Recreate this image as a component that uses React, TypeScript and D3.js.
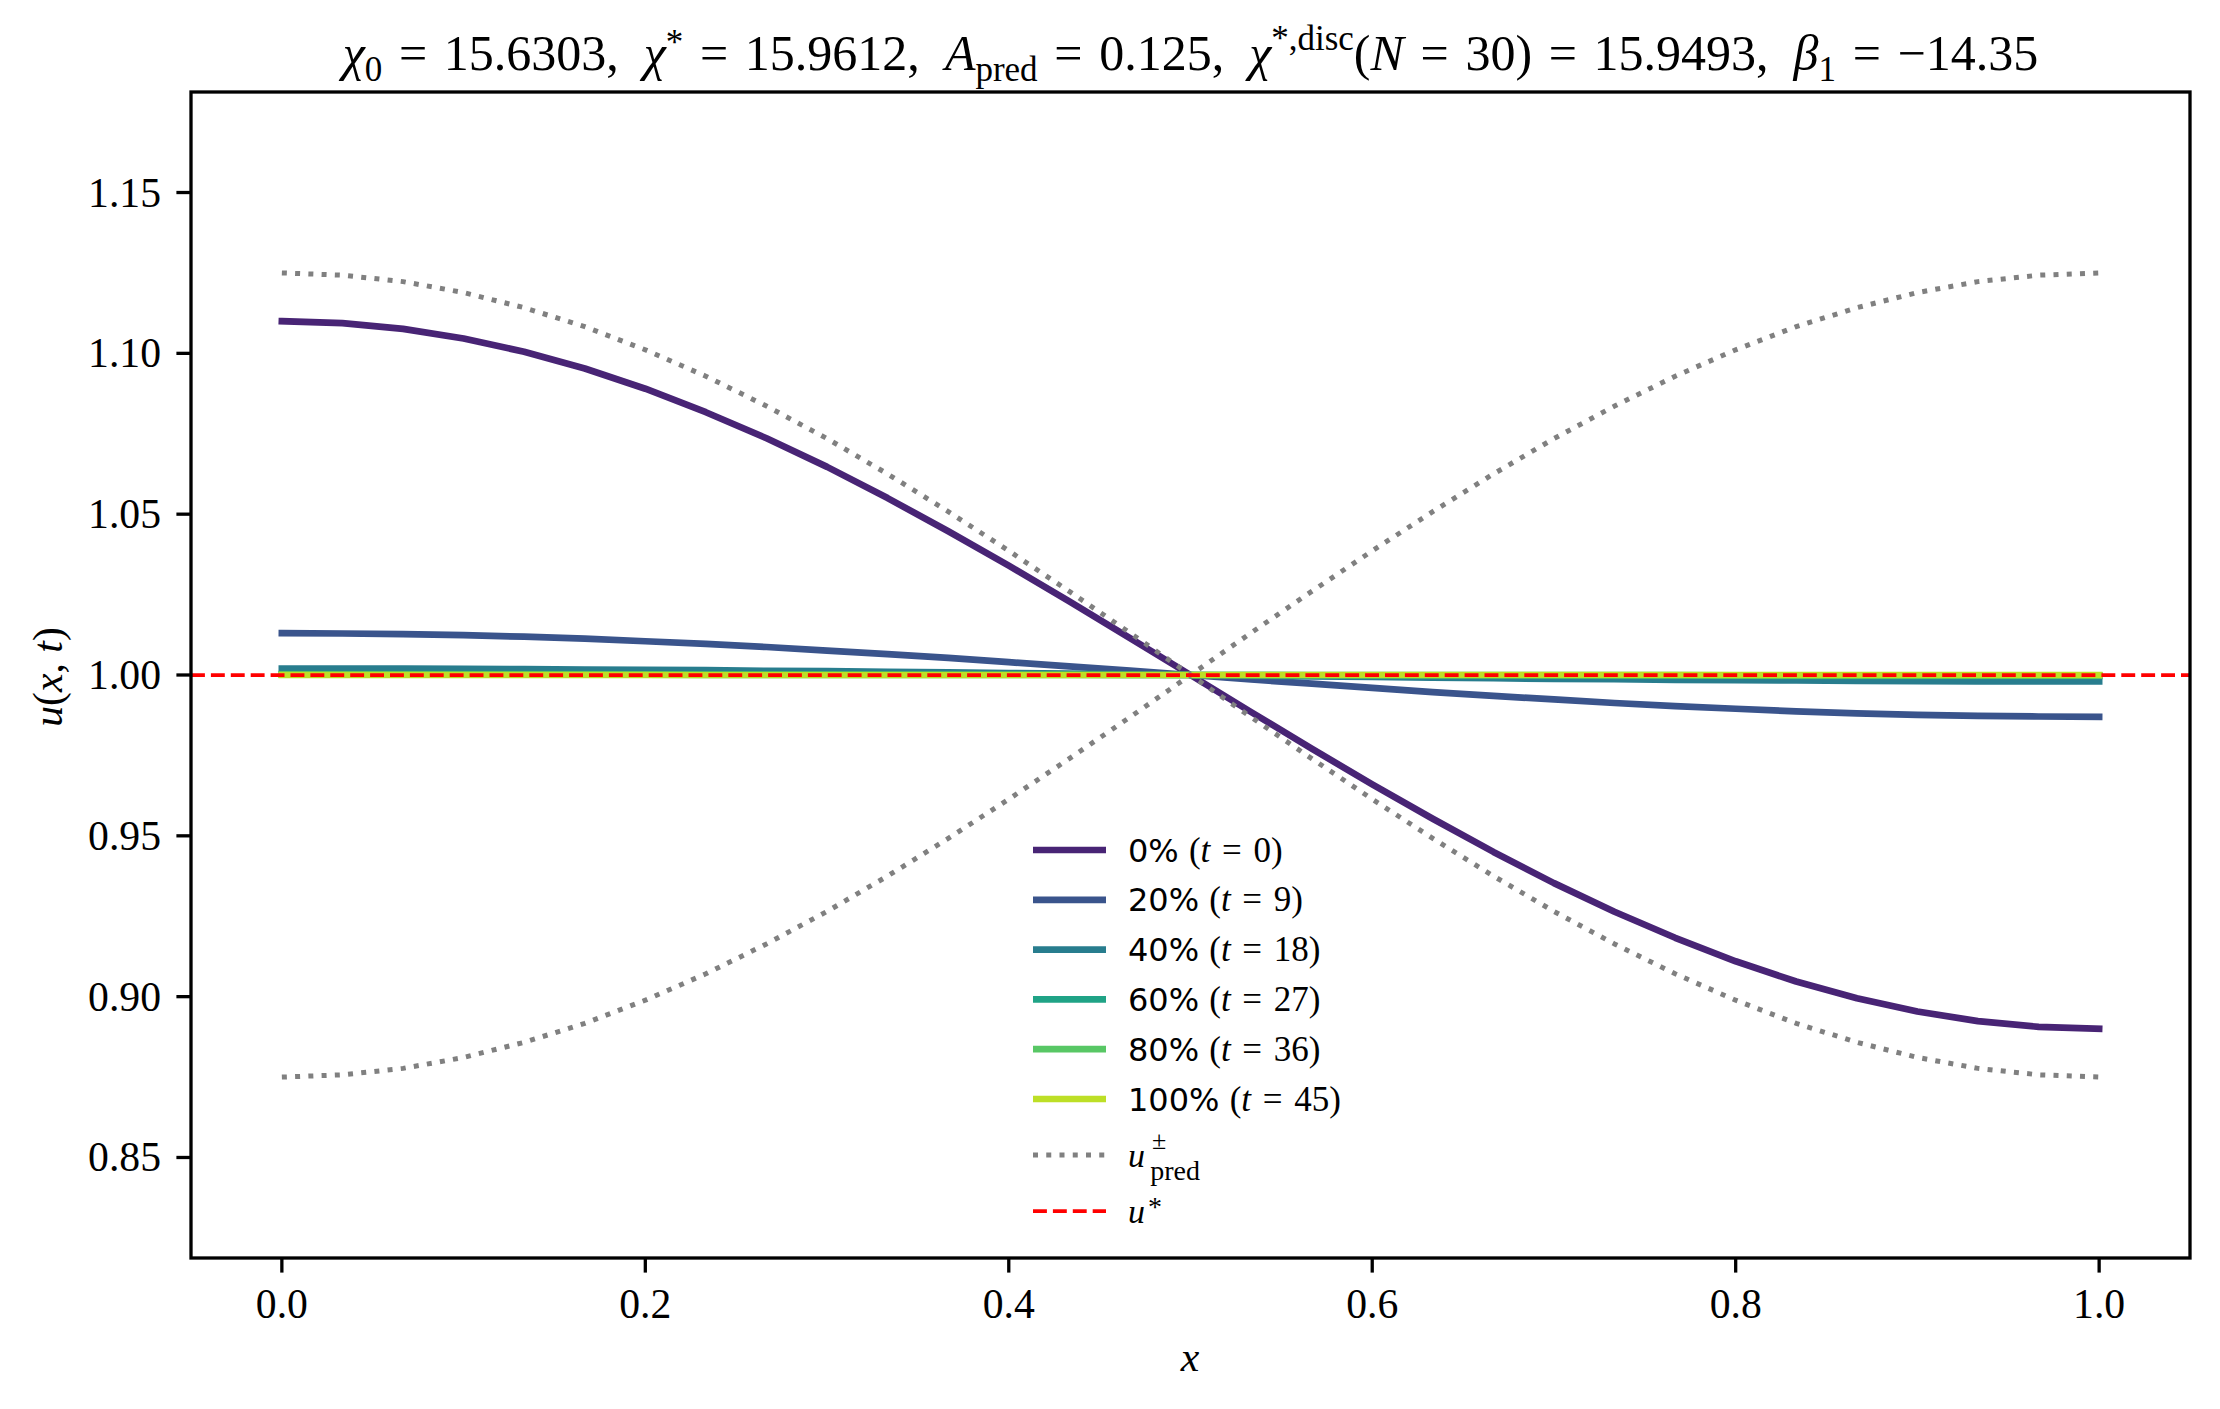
import React from "react";
import * as d3 from "d3";

const WIDTH = 2220;
const HEIGHT = 1409;
const PLOT = { left: 191, right: 2190, top: 92, bottom: 1258 };

const SERIF = "'Liberation Serif', 'Times New Roman', serif";
const SANS = "'DejaVu Sans', sans-serif";

// axis limits and ticks
const X_DOMAIN: [number, number] = [-0.05, 1.05];
const Y_DOMAIN: [number, number] = [0.81875, 1.18125];
const X_TICKS = [0.0, 0.2, 0.4, 0.6, 0.8, 1.0];
const Y_TICKS = [0.85, 0.9, 0.95, 1.0, 1.05, 1.1, 1.15];

// spatial grid (N = 30)
const X_GRID = [
  0.0, 0.0333, 0.0667, 0.1, 0.1333, 0.1667, 0.2, 0.2333, 0.2667, 0.3, 0.3333,
  0.3667, 0.4, 0.4333, 0.4667, 0.5, 0.5333, 0.5667, 0.6, 0.6333, 0.6667, 0.7,
  0.7333, 0.7667, 0.8, 0.8333, 0.8667, 0.9, 0.9333, 0.9667, 1.0,
];

// snapshots of u(x, t)
const U_T0 = [
  1.11, 1.1094, 1.1076, 1.1046, 1.1005, 1.0953, 1.089, 1.0817, 1.0736, 1.0647,
  1.055, 1.0447, 1.034, 1.0229, 1.0115, 1.0, 0.9885, 0.9771, 0.966, 0.9553,
  0.945, 0.9353, 0.9264, 0.9183, 0.911, 0.9047, 0.8995, 0.8954, 0.8924, 0.8906,
  0.89,
];
const U_T9 = [
  1.013, 1.0129, 1.0127, 1.0124, 1.0119, 1.0113, 1.0105, 1.0097, 1.0087, 1.0076,
  1.0065, 1.0053, 1.004, 1.0027, 1.0014, 1.0, 0.9986, 0.9973, 0.996, 0.9947,
  0.9935, 0.9924, 0.9913, 0.9903, 0.9895, 0.9887, 0.9881, 0.9876, 0.9873,
  0.9871, 0.987,
];
const U_T18 = [
  1.002, 1.002, 1.002, 1.0019, 1.0018, 1.0017, 1.0016, 1.0015, 1.0013, 1.0012,
  1.001, 1.0008, 1.0006, 1.0004, 1.0002, 1.0, 0.9998, 0.9996, 0.9994, 0.9992,
  0.999, 0.9988, 0.9987, 0.9985, 0.9984, 0.9983, 0.9982, 0.9981, 0.998, 0.998,
  0.998,
];
const U_T27 = [
  1.0003, 1.0003, 1.0003, 1.0003, 1.0003, 1.0003, 1.0002, 1.0002, 1.0002, 1.0002,
  1.0001, 1.0001, 1.0001, 1.0001, 1.0, 1.0, 1.0, 0.9999, 0.9999, 0.9999, 0.9999,
  0.9998, 0.9998, 0.9998, 0.9998, 0.9997, 0.9997, 0.9997, 0.9997, 0.9997,
  0.9997,
];
const U_T36 = [
  1.0001, 1.0001, 1.0001, 1.0001, 1.0001, 1.0001, 1.0001, 1.0, 1.0, 1.0, 1.0,
  1.0, 1.0, 1.0, 1.0, 1.0, 1.0, 1.0, 1.0, 1.0, 1.0, 1.0, 1.0, 1.0, 0.9999,
  0.9999, 0.9999, 0.9999, 0.9999, 0.9999, 0.9999,
];
const U_T45 = [
  1.0, 1.0, 1.0, 1.0, 1.0, 1.0, 1.0, 1.0, 1.0, 1.0, 1.0, 1.0, 1.0, 1.0, 1.0,
  1.0, 1.0, 1.0, 1.0, 1.0, 1.0, 1.0, 1.0, 1.0, 1.0, 1.0, 1.0, 1.0, 1.0, 1.0,
  1.0,
];

const SNAPSHOT_VALUES = [U_T0, U_T9, U_T18, U_T27, U_T36, U_T45];
const SNAPSHOT_PERCENT = [0, 20, 40, 60, 80, 100];
const SNAPSHOT_TIME = [0, 9, 18, 27, 36, 45];
const SNAPSHOT_CMAP = [0.1, 0.26, 0.42, 0.58, 0.74, 0.9];

// predicted envelope u_pred^{+/-}
const U_PRED_PLUS = [
  1.125, 1.1243, 1.1223, 1.1189, 1.1142, 1.1083, 1.1011, 1.0929, 1.0836,
  1.0735, 1.0625, 1.0508, 1.0386, 1.026, 1.0131, 1.0, 0.9869, 0.974, 0.9614,
  0.9492, 0.9375, 0.9265, 0.9164, 0.9071, 0.8989, 0.8917, 0.8858, 0.8811,
  0.8777, 0.8757, 0.875,
];
const U_PRED_MINUS = [
  0.875, 0.8757, 0.8777, 0.8811, 0.8858, 0.8917, 0.8989, 0.9071, 0.9164,
  0.9265, 0.9375, 0.9492, 0.9614, 0.974, 0.9869, 1.0, 1.0131, 1.026, 1.0386,
  1.0508, 1.0625, 1.0735, 1.0836, 1.0929, 1.1011, 1.1083, 1.1142, 1.1189,
  1.1223, 1.1243, 1.125,
];
const U_STAR = 1.0;

const LW_SNAP = 6.7;
const LW_PRED = 5;
const LW_STAR = 3.75;
const DASH_PRED = "5,8.25";
const DASH_STAR = "13.9,6";
const PRED_COLOR = "#808080";
const STAR_COLOR = "#ff0000";

const EQ = "\u2004=\u2004"; // wider math spacing around "="

// one piece of a math-like label: fs = font size override, shift = baseline offset (px, + is down)
type Seg = {
  s: string;
  it?: boolean;
  sub?: boolean;
  sup?: boolean;
  sans?: boolean;
  fs?: number;
  shift?: number;
  dx?: number;
};

function Rich({
  x,
  y,
  size,
  segs,
  anchor = "start",
  transform,
}: {
  x: number;
  y: number;
  size: number;
  segs: Seg[];
  anchor?: "start" | "middle" | "end";
  transform?: string;
}) {
  let cur = 0;
  return (
    <text
      x={x}
      y={y}
      fontSize={size}
      textAnchor={anchor}
      transform={transform}
      fontFamily={SERIF}
      fill="#000"
      style={{ whiteSpace: "pre" }}
    >
      {segs.map((g, i) => {
        const target =
          g.shift !== undefined ? g.shift : g.sub ? size * 0.22 : g.sup ? -size * 0.4 : 0;
        const dy = target - cur;
        cur = target;
        const fs = g.fs ?? (g.sub || g.sup ? size * 0.7 : size);
        return (
          <tspan
            key={i}
            dy={dy !== 0 ? dy : undefined}
            dx={g.dx}
            fontSize={fs}
            fontStyle={g.it ? "italic" : "normal"}
            fontFamily={g.sans ? SANS : SERIF}
          >
            {g.s}
          </tspan>
        );
      })}
    </text>
  );
}

const TITLE: Seg[] = [
  { s: "χ", it: true },
  { s: "0", sub: true },
  { s: `${EQ}15.6303,  ` },
  { s: "χ", it: true },
  { s: "*", sup: true, shift: -16 },
  { s: `${EQ}15.9612,  ` },
  { s: "A", it: true },
  { s: "pred", sub: true },
  { s: `${EQ}0.125,  ` },
  { s: "χ", it: true },
  { s: "*,disc", sup: true },
  { s: "(" },
  { s: "N", it: true },
  { s: `${EQ}30)${EQ}15.9493,  ` },
  { s: "β", it: true },
  { s: "1", sub: true },
  { s: `${EQ}−14.35` },
];

export default function App() {
  const x = d3.scaleLinear().domain(X_DOMAIN).range([PLOT.left, PLOT.right]);
  const y = d3.scaleLinear().domain(Y_DOMAIN).range([PLOT.bottom, PLOT.top]);
  const line = d3
    .line<number>()
    .x((_, i) => x(X_GRID[i]))
    .y((d) => y(d));

  const legendSans = 32;
  const legendMath = 35;

  const snapshots = SNAPSHOT_VALUES.map((vals, i) => ({
    vals,
    color: d3.interpolateViridis(SNAPSHOT_CMAP[i]),
    label: [
      { s: `${SNAPSHOT_PERCENT[i]}% `, sans: true, fs: legendSans },
      { s: "(" },
      { s: "t", it: true },
      { s: `\u2004=\u2004${SNAPSHOT_TIME[i]})` },
    ] as Seg[],
  }));

  const tickLen = 14.6;
  const tickFont = 41.7;
  const legX0 = 1033;
  const legX1 = 1106;
  const legTextX = 1128;
  const legRows = [850, 899.8, 949.6, 999.4, 1049.2, 1099, 1155, 1211];

  return (
    <div style={{ position: "absolute", left: 0, top: 0, background: "#fff" }}>
      <svg width={WIDTH} height={HEIGHT} viewBox={`0 0 ${WIDTH} ${HEIGHT}`} style={{ display: "block" }}>
        <rect x={0} y={0} width={WIDTH} height={HEIGHT} fill="#fff" />

        {/* snapshots */}
        {snapshots.map((s, i) => (
          <path
            key={i}
            d={line(s.vals) ?? ""}
            fill="none"
            stroke={s.color}
            strokeWidth={LW_SNAP}
            strokeLinecap="square"
            strokeLinejoin="round"
          />
        ))}

        {/* predicted envelope */}
        {[U_PRED_PLUS, U_PRED_MINUS].map((vals, i) => (
          <path
            key={i}
            d={line(vals) ?? ""}
            fill="none"
            stroke={PRED_COLOR}
            strokeWidth={LW_PRED}
            strokeDasharray={DASH_PRED}
            strokeLinejoin="round"
          />
        ))}

        {/* u* */}
        <line
          x1={PLOT.left}
          x2={PLOT.right}
          y1={y(U_STAR)}
          y2={y(U_STAR)}
          stroke={STAR_COLOR}
          strokeWidth={LW_STAR}
          strokeDasharray={DASH_STAR}
        />

        {/* frame */}
        <rect
          x={PLOT.left}
          y={PLOT.top}
          width={PLOT.right - PLOT.left}
          height={PLOT.bottom - PLOT.top}
          fill="none"
          stroke="#000"
          strokeWidth={3.3}
        />

        {/* x ticks */}
        {X_TICKS.map((t) => (
          <g key={`x${t}`}>
            <line x1={x(t)} x2={x(t)} y1={PLOT.bottom} y2={PLOT.bottom + tickLen} stroke="#000" strokeWidth={3.3} />
            <text x={x(t)} y={1318} fontSize={tickFont} fontFamily={SERIF} textAnchor="middle">
              {t.toFixed(1)}
            </text>
          </g>
        ))}

        {/* y ticks */}
        {Y_TICKS.map((t) => (
          <g key={`y${t}`}>
            <line x1={PLOT.left - tickLen} x2={PLOT.left} y1={y(t)} y2={y(t)} stroke="#000" strokeWidth={3.3} />
            <text x={161} y={y(t) + 14} fontSize={tickFont} fontFamily={SERIF} textAnchor="end">
              {t.toFixed(2)}
            </text>
          </g>
        ))}

        {/* axis labels */}
        <Rich x={1190} y={1371} size={tickFont} anchor="middle" segs={[{ s: "x", it: true }]} />
        <Rich
          x={0}
          y={0}
          size={tickFont}
          anchor="middle"
          transform={`translate(62,677) rotate(-90)`}
          segs={[
            { s: "u", it: true },
            { s: "(" },
            { s: "x", it: true },
            { s: ", " },
            { s: "t", it: true },
            { s: ")" },
          ]}
        />

        {/* title */}
        <Rich x={(PLOT.left + PLOT.right) / 2} y={70} size={50} anchor="middle" segs={TITLE} />

        {/* legend */}
        {snapshots.map((s, i) => (
          <g key={`leg${i}`}>
            <line x1={legX0} x2={legX1} y1={legRows[i]} y2={legRows[i]} stroke={s.color} strokeWidth={LW_SNAP} />
            <Rich x={legTextX} y={legRows[i] + 11.5} size={legendMath} segs={s.label} />
          </g>
        ))}
        <line
          x1={legX0}
          x2={legX1}
          y1={legRows[6]}
          y2={legRows[6]}
          stroke={PRED_COLOR}
          strokeWidth={LW_PRED}
          strokeDasharray={DASH_PRED}
        />
        <Rich
          x={legTextX}
          y={legRows[6] + 12}
          size={34}
          segs={[
            { s: "u", it: true },
            { s: "±", fs: 26, shift: -18, dx: 7 },
            { s: "pred", fs: 28, shift: 13, dx: -16 },
          ]}
        />
        <line
          x1={legX0}
          x2={legX1}
          y1={legRows[7]}
          y2={legRows[7]}
          stroke={STAR_COLOR}
          strokeWidth={LW_STAR}
          strokeDasharray={DASH_STAR}
        />
        <Rich
          x={legTextX}
          y={legRows[7] + 12}
          size={34}
          segs={[
            { s: "u", it: true },
            { s: "*", fs: 28, shift: -7, dx: 3 },
          ]}
        />
      </svg>
    </div>
  );
}
